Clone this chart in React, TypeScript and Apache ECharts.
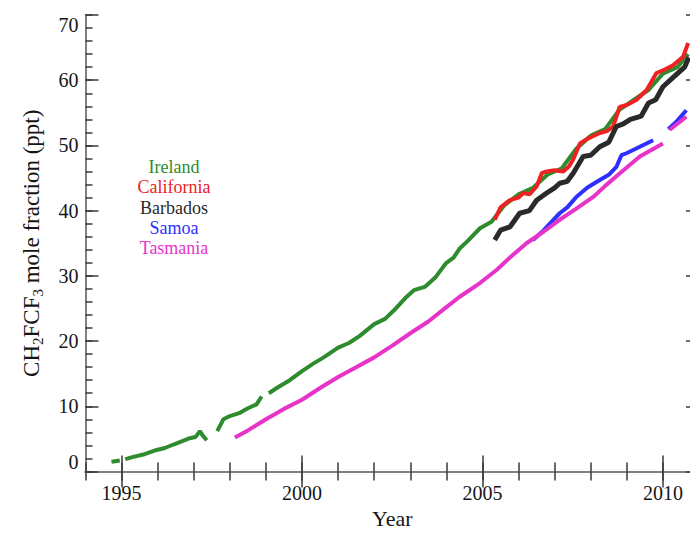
import React, { useEffect, useRef } from "react";
import * as echarts from "echarts";

// ---- data ----
const yearTicks = [1995, 2000, 2005, 2010];

const ireland: any[] = [
  [1994.72, 1.5], [1994.95, 1.7], [1995.02, "-"], [1995.1, 1.9], [1995.3, 2.2], [1995.6, 2.6],
  [1995.97, 3.3], [1996.2, 3.6], [1996.42, 4.1], [1996.7, 4.7], [1996.89, 5.1], [1997.05, 5.3],
  [1997.17, 6.2], [1997.25, 5.5], [1997.36, 4.8], [1997.5, "-"], [1997.65, 6.2], [1997.82, 8.0],
  [1998.0, 8.5], [1998.28, 9.0], [1998.5, 9.7], [1998.74, 10.3], [1998.88, 11.5], [1998.98, "-"],
  [1999.08, 12.0], [1999.3, 12.8], [1999.66, 14.0], [2000.0, 15.4], [2000.3, 16.5], [2000.6, 17.5],
  [2001.0, 19.0], [2001.3, 19.7], [2001.6, 20.8], [2002.0, 22.6], [2002.3, 23.4], [2002.6, 25.0],
  [2002.9, 26.8], [2003.1, 27.8], [2003.4, 28.3], [2003.7, 29.8], [2004.0, 32.0], [2004.2, 32.8],
  [2004.37, 34.2], [2004.6, 35.4], [2004.93, 37.3], [2005.25, 38.3], [2005.6, 40.8], [2006.0, 42.5],
  [2006.4, 43.5], [2006.8, 45.5], [2007.2, 46.5], [2007.6, 49.5], [2008.0, 51.5], [2008.4, 52.5],
  [2008.8, 55.5], [2009.2, 57.0], [2009.6, 58.5], [2010.0, 61.0], [2010.4, 62.0], [2010.7, 64.0],
];

const california: any[] = [
  [2005.34, 38.6], [2005.5, 40.5], [2005.76, 41.6], [2006.0, 42.0], [2006.13, 42.7], [2006.3, 42.5],
  [2006.5, 43.7], [2006.65, 45.8], [2006.78, 46.0], [2007.0, 46.2], [2007.24, 46.0], [2007.4, 46.8],
  [2007.51, 47.8], [2007.7, 50.3], [2007.9, 51.0], [2008.25, 51.9], [2008.45, 52.2], [2008.62, 52.9],
  [2008.8, 55.9], [2009.0, 56.2], [2009.27, 57.0], [2009.55, 58.5], [2009.82, 61.1], [2010.0, 61.5],
  [2010.28, 62.3], [2010.56, 63.6], [2010.7, 65.7],
];

const barbados: any[] = [
  [2005.34, 35.5], [2005.5, 37.0], [2005.76, 37.5], [2006.03, 39.6], [2006.3, 40.0], [2006.5, 41.6],
  [2006.78, 42.7], [2007.0, 43.5], [2007.14, 44.2], [2007.35, 44.5], [2007.51, 45.7], [2007.79, 48.3],
  [2008.0, 48.5], [2008.25, 49.8], [2008.5, 50.5], [2008.71, 52.9], [2008.9, 53.3], [2009.1, 54.0],
  [2009.4, 54.5], [2009.6, 56.5], [2009.8, 57.0], [2010.0, 59.0], [2010.3, 60.5], [2010.6, 62.0],
  [2010.72, 63.5],
];

const samoa: any[] = [
  [2006.4, 35.5], [2006.7, 37.0], [2006.9, 38.2], [2007.14, 39.6], [2007.35, 40.5], [2007.6, 42.1],
  [2007.9, 43.5], [2008.25, 44.7], [2008.5, 45.5], [2008.71, 46.7], [2008.85, 48.5], [2008.99, 48.8],
  [2009.36, 49.8], [2009.73, 50.8], [2009.95, "-"], [2010.15, 52.5], [2010.4, 53.8], [2010.65, 55.4],
];

const tasmania: any[] = [
  [1998.14, 5.2], [1998.5, 6.3], [1999.0, 8.0], [1999.5, 9.6], [2000.0, 11.0], [2000.5, 12.8],
  [2001.0, 14.5], [2001.5, 16.0], [2002.0, 17.5], [2002.5, 19.3], [2003.0, 21.2], [2003.5, 23.0],
  [2004.0, 25.2], [2004.37, 26.8], [2004.93, 28.9], [2005.39, 30.9], [2005.8, 33.0], [2006.22, 35.0],
  [2006.7, 36.8], [2007.14, 38.6], [2007.6, 40.3], [2008.07, 42.1], [2008.4, 43.8], [2008.8, 45.7],
  [2009.36, 48.3], [2010.0, 50.3], [2010.1, "-"], [2010.19, 52.4], [2010.65, 54.4],
];

const stations = ["Ireland", "California", "Barbados", "Samoa", "Tasmania"];
const stationColors = ["#2e8b2e", "#ee2222", "#2a2a2a", "#2f2fff", "#e833c8"];
const stationData = [ireland, california, barbados, samoa, tasmania];

const FONT = "'Liberation Serif', 'Times New Roman', serif";

export default function App() {
  const ref = useRef<HTMLDivElement>(null);
  useEffect(() => {
    document.body.style.margin = "0";
    const chart = echarts.init(ref.current!, null, { renderer: "svg" });
    const axisLine = { show: true, lineStyle: { color: "#808080", width: 2 } };
    const noLine = { show: false };
    const tickStyle = { color: "#3a3a3a", width: 1.5 };
    const gridBox = {
      left: 85.5, top: 15, width: 613.5, height: 456.5,
      containLabel: false, outerBoundsMode: "none",
    };
    const baseX = { type: "value", min: 1994, max: 2011, splitLine: { show: false } };
    const baseY = { type: "value", min: 0, max: 70, splitLine: { show: false } };
    chart.setOption({
      animation: false,
      backgroundColor: "#ffffff",
      grid: [{ ...gridBox }, { ...gridBox }],
      xAxis: [
        // grid 0: yearly (minor) ticks, labels, spines
        {
          ...baseX,
          gridIndex: 0,
          interval: 1,
          position: "bottom",
          axisLine,
          axisTick: { show: true, inside: true, length: 9, lineStyle: tickStyle },
          axisLabel: {
            show: true, customValues: yearTicks, fontSize: 20, fontFamily: FONT, color: "#151515", margin: 11,
            formatter: (v: number) => String(Math.round(v)),
          },
          name: "Year",
          nameLocation: "middle",
          nameGap: 36,
          nameTextStyle: { fontSize: 22, fontFamily: FONT, color: "#151515" },
        },
        {
          ...baseX,
          gridIndex: 0,
          interval: 1,
          position: "top",
          axisLine,
          axisTick: { show: true, inside: true, length: 9, lineStyle: tickStyle },
          axisLabel: { show: false },
        },
        // grid 1: five-year (major) ticks
        {
          ...baseX,
          gridIndex: 1,
          position: "bottom",
          axisLine: noLine,
          axisTick: { show: true, inside: true, length: 16, customValues: yearTicks, lineStyle: tickStyle },
          axisLabel: { show: false },
        },
        {
          ...baseX,
          gridIndex: 1,
          position: "top",
          axisLine: noLine,
          axisTick: { show: true, inside: true, length: 16, customValues: yearTicks, lineStyle: tickStyle },
          axisLabel: { show: false },
        },
      ],
      yAxis: [
        // grid 0: major ticks every 10, labels, spines
        {
          ...baseY,
          gridIndex: 0,
          interval: 10,
          position: "left",
          axisLine,
          axisTick: { show: true, inside: true, length: 13, lineStyle: tickStyle },
          axisLabel: {
            show: true, fontSize: 20, fontFamily: FONT, color: "#151515", margin: 7,
            verticalAlignMinLabel: "bottom", verticalAlignMaxLabel: "top",
          },
          name: "CH{sub|2}FCF{sub|3} mole fraction (ppt)",
          nameLocation: "middle",
          nameGap: 40,
          nameTextStyle: {
            fontSize: 23, fontFamily: FONT, color: "#151515", lineHeight: 28,
            rich: {
              sub: { fontSize: 15, fontFamily: FONT, color: "#151515", lineHeight: 15, verticalAlign: "bottom" },
            },
          },
        },
        {
          ...baseY,
          gridIndex: 0,
          interval: 10,
          position: "right",
          axisLine,
          axisTick: { show: true, inside: true, length: 13, lineStyle: tickStyle },
          axisLabel: { show: false },
        },
        // grid 1: minor ticks every 2
        {
          ...baseY,
          gridIndex: 1,
          interval: 2,
          position: "left",
          axisLine: noLine,
          axisTick: { show: true, inside: true, length: 7, lineStyle: tickStyle },
          axisLabel: { show: false },
        },
        {
          ...baseY,
          gridIndex: 1,
          interval: 2,
          position: "right",
          axisLine: noLine,
          axisTick: { show: true, inside: true, length: 7, lineStyle: tickStyle },
          axisLabel: { show: false },
        },
      ],
      series: stations.map((name, i) => ({
        name,
        type: "line",
        xAxisIndex: 0,
        yAxisIndex: 0,
        data: stationData[i],
        showSymbol: false,
        symbol: "none",
        connectNulls: false,
        lineStyle: { color: stationColors[i], width: i === 2 ? 5 : 4 },
        itemStyle: { color: stationColors[i] },
        z: 2 + i,
      })),
      graphic: stations.map((name, i) => ({
        type: "text",
        x: 174,
        y: 167 + i * 20.3,
        style: {
          text: name,
          fill: stationColors[i],
          font: `18px ${FONT}`,
          lineHeight: 18,
          textAlign: "center",
          textVerticalAlign: "middle",
        },
      })),
    });
    return () => chart.dispose();
  }, []);
  return (
    <div
      ref={ref}
      style={{ position: "absolute", left: 0, top: 0, width: 690, height: 534, overflow: "hidden" }}
    />
  );
}
